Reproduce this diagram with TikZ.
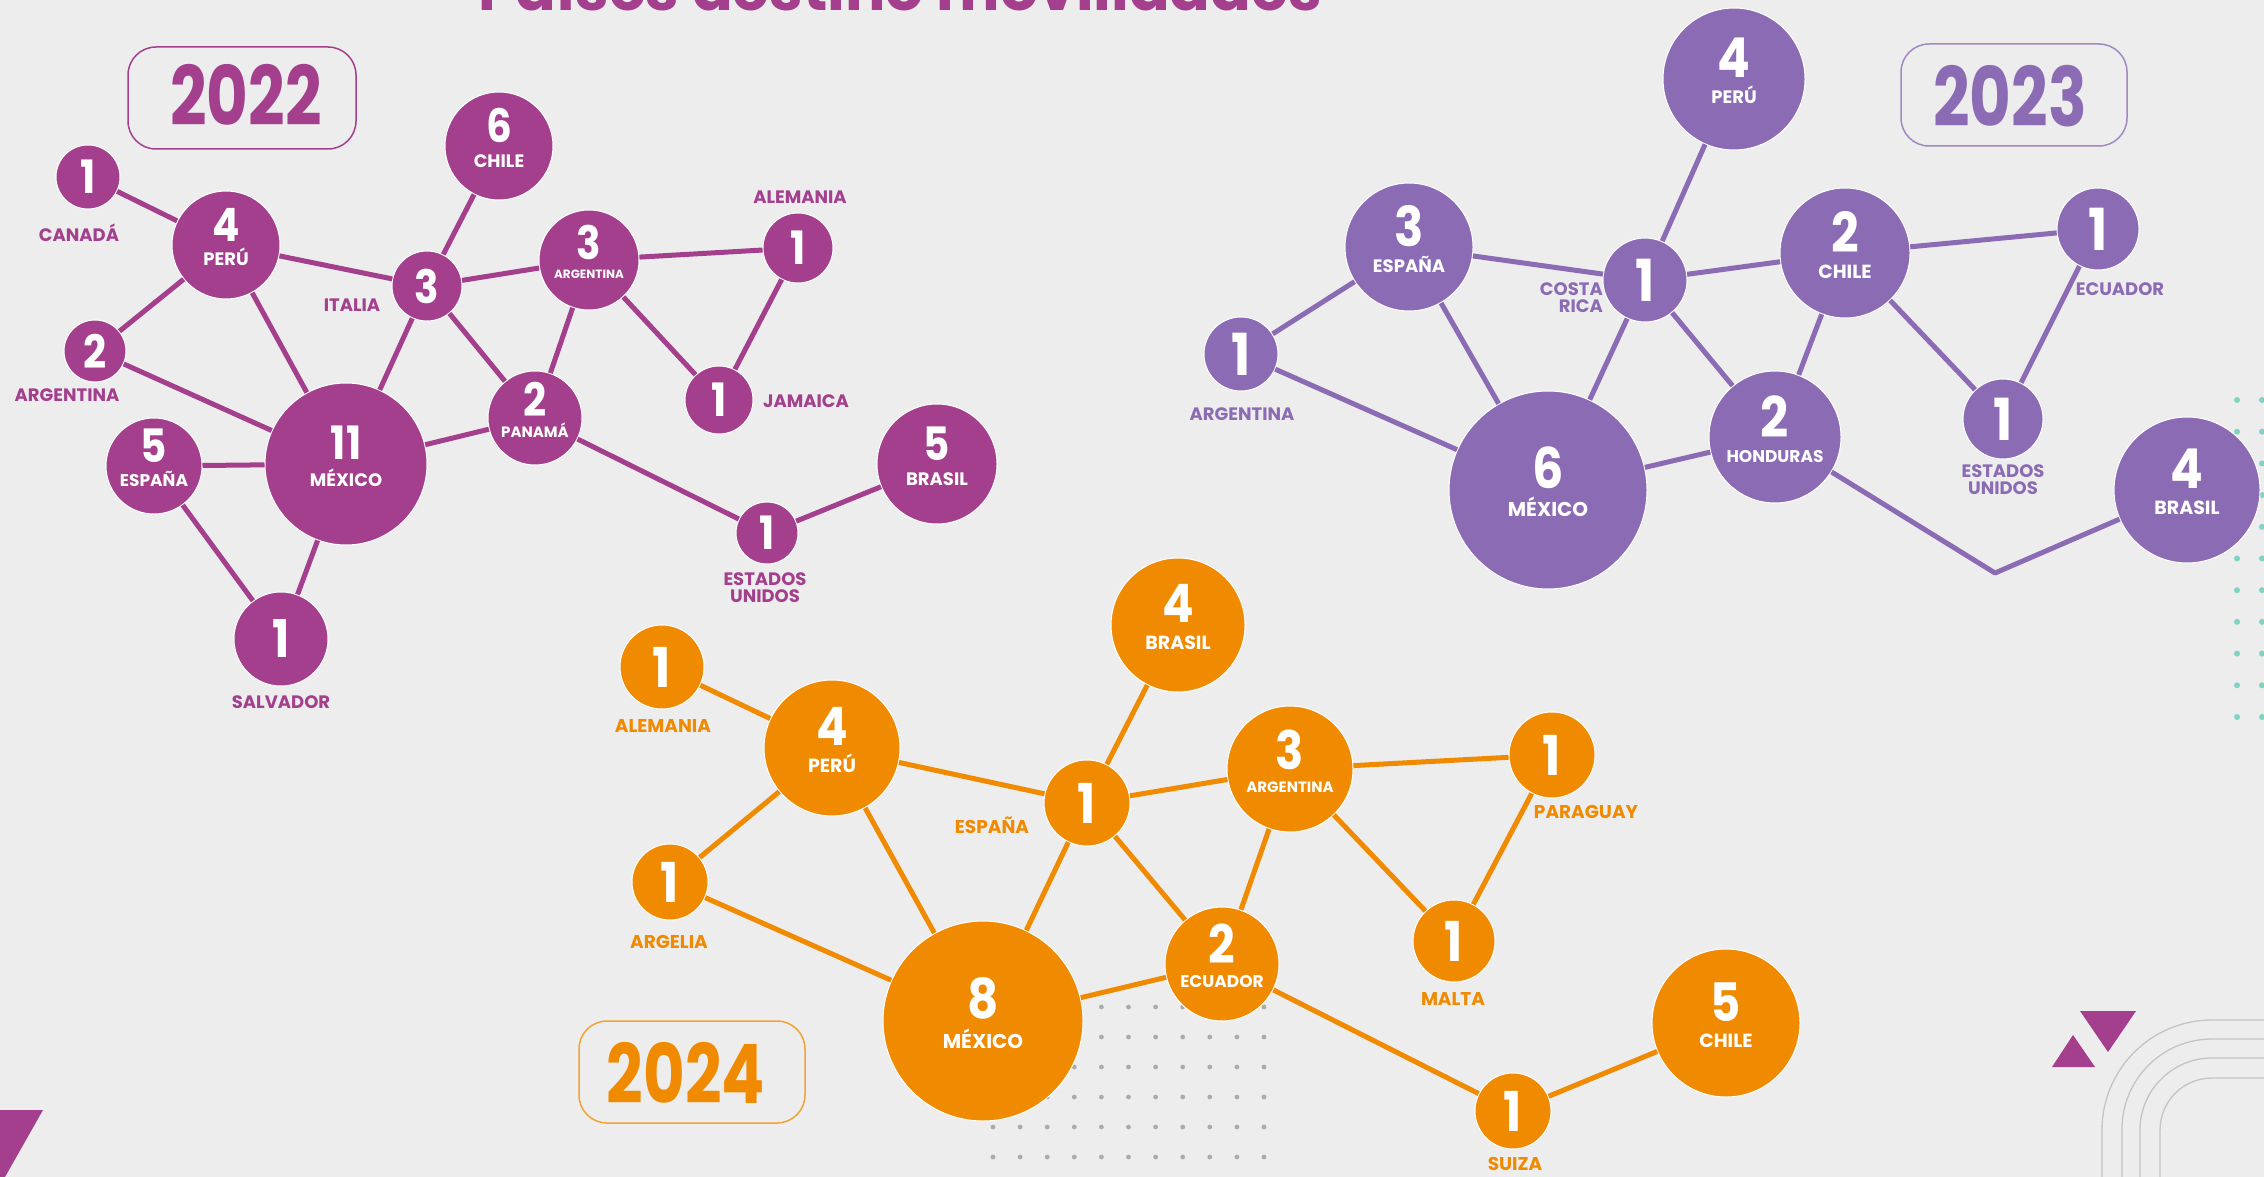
\documentclass[tikz,border=0pt]{standalone}
\usepackage{fontspec}
\setmainfont{Poppins}
\definecolor{cA}{HTML}{A33F8C}
\definecolor{cB}{HTML}{8B6CB4}
\definecolor{cC}{HTML}{F08A00}
\definecolor{paper}{HTML}{EDEDED}
\definecolor{dotgray}{HTML}{ABABAB}
\definecolor{dotteal}{HTML}{7FD3C0}
\definecolor{arcgray}{HTML}{C4C4C4}
\newcommand\NumName[5]{{\renewcommand\arraystretch{0}%
\begin{tabular}{@{}c@{}}\fontsize{#3}{#3}\selectfont\scalebox{0.88}[1]{#1}\\[#5]%
\fontsize{#4}{#4}\selectfont\smash{#2}\vphantom{E}\rule[-16pt]{0pt}{16pt}\end{tabular}}}
\newcommand\NumOnly[2]{{\fontsize{#2}{#2}\selectfont\scalebox{0.88}[1]{#1}}}
\tikzset{
  circA/.style={circle, fill=cA, draw=white, line width=1pt, inner sep=0pt},
  circB/.style={circle, fill=cB, draw=white, line width=1pt, inner sep=0pt},
  circC/.style={circle, fill=cC, draw=white, line width=1pt, inner sep=0pt},
  intext/.style={text=white, font=\bfseries, inner sep=0pt},
  eA/.style={draw=cA, line width=5pt},
  eB/.style={draw=cB, line width=5pt},
  eC/.style={draw=cC, line width=5pt},
  labA/.style={text=cA, font=\fontsize{18}{17}\selectfont\bfseries, align=center, inner sep=0pt},
  labB/.style={text=cB, font=\fontsize{18}{17}\selectfont\bfseries, align=center, inner sep=0pt},
  labC/.style={text=cC, font=\fontsize{18.5}{17}\selectfont\bfseries, align=center, inner sep=0pt},
  yearbox/.style={draw, line width=1.5pt, rounded corners=28pt},
}
\begin{document}
\begin{tikzpicture}[x=1pt, y=-1pt]
\useasboundingbox (0,0) rectangle (2264,1177);
\fill[paper] (0,0) rectangle (2264,1177);

% decorations
\foreach \i in {0,...,10} \foreach \j in {0,...,5}
  \fill[dotgray] (993+27.1*\i, 1007+30*\j) circle (2.4pt);
\foreach \j in {0,...,10} {
  \fill[dotteal] (2237, 400+31.7*\j) circle (3pt);
  \fill[dotteal] (2262, 400+31.7*\j) circle (3pt);
}
\fill[cA] (2080,1011) -- (2136,1011) -- (2108,1052) -- cycle;
\fill[cA] (2052,1067) -- (2095,1067) -- (2073,1035) -- cycle;
\fill[cA] (0,1110) -- (43,1110) -- (5,1177) -- (0,1177) -- cycle;
\draw[arcgray, line width=1.3pt, rounded corners=110pt] (2102,1177) -- (2102,1020) -- (2264,1020);
\draw[arcgray, line width=1.3pt, rounded corners=90pt] (2122,1177) -- (2122,1039) -- (2264,1039);
\draw[arcgray, line width=1.3pt, rounded corners=72pt] (2140,1177) -- (2140,1058) -- (2264,1058);
\draw[arcgray, line width=1.3pt, rounded corners=52pt] (2160,1177) -- (2160,1078) -- (2264,1078);

% title (cut off at the top)
\node[text=cA, font=\fontsize{60}{60}\selectfont\bfseries, anchor=base, inner sep=0pt] (title) at (900,11) {Países destino movilidades};

% year boxes
\draw[yearbox, cA] (128,47) rectangle (356,149);
\node[text=cA, font=\fontsize{82}{82}\selectfont\bfseries, inner sep=0pt] (y22) at (246,95) {\scalebox{0.78}[1]{2022}};
\draw[yearbox, cB!80] (1901,44) rectangle (2127,146);
\node[text=cB, font=\fontsize{82}{82}\selectfont\bfseries, inner sep=0pt] (y23) at (2010,96) {\scalebox{0.78}[1]{2023}};
\draw[yearbox, cC!80] (579,1021) rectangle (805,1123);
\node[text=cC, font=\fontsize{82}{82}\selectfont\bfseries, inner sep=0pt] (y24) at (686,1073) {\scalebox{0.78}[1]{2024}};

% ================= 2022 =================
\node[circA, minimum size=64pt] (can22) at (88,177) {};
\node[circA, minimum size=108pt] (per22) at (226,245) {};
\node[circA, minimum size=62pt] (arg22) at (95,351) {};
\node[circA, minimum size=96pt] (esp22) at (154,466) {};
\node[circA, minimum size=162pt] (mex22) at (346,464) {};
\node[circA, minimum size=94pt] (sal22) at (281,639) {};
\node[circA, minimum size=70pt] (ita22) at (427,286) {};
\node[circA, minimum size=108pt] (chi22) at (499,146) {};
\node[circA, minimum size=100pt] (arb22) at (589,260) {};
\node[circA, minimum size=94pt] (pan22) at (535,418) {};
\node[circA, minimum size=70pt] (ale22) at (798,248) {};
\node[circA, minimum size=68pt] (jam22) at (719,400) {};
\node[circA, minimum size=62pt] (usa22) at (767,533) {};
\node[circA, minimum size=120pt] (bra22) at (937,464) {};

\node[intext] (tcan22) at (can22) {\NumOnly{1}{46}};
\node[intext] (tper22) at (per22) {\NumName{4}{PERÚ}{46}{18}{12pt}};
\node[intext] (targ22) at (arg22) {\NumOnly{2}{46}};
\node[intext] (tesp22) at (esp22) {\NumName{5}{ESPAÑA}{46}{17}{12pt}};
\node[intext] (tmex22) at (mex22) {\NumName{11}{MÉXICO}{46}{18}{14pt}};
\node[intext] (tsal22) at (sal22) {\NumOnly{1}{52}};
\node[intext] (tita22) at (ita22) {\NumOnly{3}{46}};
\node[intext] (tchi22) at (chi22) {\NumName{6}{CHILE}{46}{18}{12pt}};
\node[intext] (tarb22) at (arb22) {\NumName{3}{ARGENTINA}{46}{12}{10pt}};
\node[intext] (tpan22) at (pan22) {\NumName{2}{PANAMÁ}{46}{15}{11pt}};
\node[intext] (tale22) at (ale22) {\NumOnly{1}{46}};
\node[intext] (tjam22) at (jam22) {\NumOnly{1}{46}};
\node[intext] (tusa22) at (usa22) {\NumOnly{1}{46}};
\node[intext] (tbra22) at (bra22) {\NumName{5}{BRASIL}{46}{18}{12pt}};

\draw[eA] (can22) -- (per22);
\draw[eA] (per22) -- (arg22);
\draw[eA] (per22) -- (ita22);
\draw[eA] (per22) -- (mex22);
\draw[eA] (arg22) -- (mex22);
\draw[eA] (esp22) -- (mex22);
\draw[eA] (esp22) -- (sal22);
\draw[eA] (mex22) -- (sal22);
\draw[eA] (mex22) -- (ita22);
\draw[eA] (ita22) -- (chi22);
\draw[eA] (ita22) -- (arb22);
\draw[eA] (ita22) -- (pan22);
\draw[eA] (arb22) -- (pan22);
\draw[eA] (arb22) -- (ale22);
\draw[eA] (arb22) -- (jam22);
\draw[eA] (ale22) -- (jam22);
\draw[eA] (mex22) -- (pan22);
\draw[eA] (pan22) -- (usa22);
\draw[eA] (usa22) -- (bra22);

\node[labA] (lcan22) at (79,233) {CANADÁ};
\node[labA] (larg22) at (67,395) {ARGENTINA};
\node[labA] (lsal22) at (281,702) {SALVADOR};
\node[labA] (lita22) at (352,305) {ITALIA};
\node[labA] (lale22) at (800,197) {ALEMANIA};
\node[labA] (ljam22) at (806,401) {JAMAICA};
\node[labA] (lusa22) at (765,588) {ESTADOS\\UNIDOS};

% ================= 2023 =================
\node[circB, minimum size=142pt] (per23) at (1734,79) {};
\node[circB, minimum size=128pt] (esp23) at (1409,247) {};
\node[circB, minimum size=84pt] (cri23) at (1645,280) {};
\node[circB, minimum size=130pt] (chi23) at (1845,253) {};
\node[circB, minimum size=82pt] (ecu23) at (2098,229) {};
\node[circB, minimum size=74pt] (arg23) at (1241,354) {};
\node[circB, minimum size=198pt] (mex23) at (1548,490) {};
\node[circB, minimum size=132pt] (hon23) at (1775,437) {};
\node[circB, minimum size=80pt] (usa23) at (2003,419) {};
\node[circB, minimum size=146pt] (bra23) at (2187,490) {};
\coordinate (bend23) at (1995,573);

\node[intext] (tper23) at (per23) {\NumName{4}{PERÚ}{55}{18}{13pt}};
\node[intext] (tesp23) at (esp23) {\NumName{3}{ESPAÑA}{55}{18}{13pt}};
\node[intext] (tcri23) at (cri23) {\NumOnly{1}{58}};
\node[intext] (tchi23) at (chi23) {\NumName{2}{CHILE}{55}{19}{13pt}};
\node[intext] (tecu23) at (ecu23) {\NumOnly{1}{58}};
\node[intext] (targ23) at (arg23) {\NumOnly{1}{58}};
\node[intext] (tmex23) at (mex23) {\NumName{6}{MÉXICO}{56}{20}{14pt}};
\node[intext] (thon23) at (hon23) {\NumName{2}{HONDURAS}{56}{17}{13pt}};
\node[intext] (tusa23) at (usa23) {\NumOnly{1}{58}};
\node[intext] (tbra23) at (bra23) {\NumName{4}{BRASIL}{55}{19}{13pt}};

\draw[eB] (per23) -- (cri23);
\draw[eB] (esp23) -- (cri23);
\draw[eB] (esp23) -- (arg23);
\draw[eB] (esp23) -- (mex23);
\draw[eB] (arg23) -- (mex23);
\draw[eB] (cri23) -- (chi23);
\draw[eB] (cri23) -- (mex23);
\draw[eB] (cri23) -- (hon23);
\draw[eB] (chi23) -- (hon23);
\draw[eB] (chi23) -- (ecu23);
\draw[eB] (chi23) -- (usa23);
\draw[eB] (ecu23) -- (usa23);
\draw[eB] (mex23) -- (hon23);
\draw[eB, line join=round] (hon23) -- (bend23) -- (bra23);

\node[labB, align=right, anchor=east] (lcri23) at (1603,298) {COSTA\\RICA};
\node[labB] (lecu23) at (2120,289) {ECUADOR};
\node[labB] (larg23) at (1242,414) {ARGENTINA};
\node[labB] (lusa23) at (2003,480) {ESTADOS\\UNIDOS};

% ================= 2024 =================
\node[circC, minimum size=84pt] (ale24) at (662,667) {};
\node[circC, minimum size=136pt] (per24) at (832,748) {};
\node[circC, minimum size=76pt] (agl24) at (670,882) {};
\node[circC, minimum size=134pt] (bra24) at (1178,625) {};
\node[circC, minimum size=86pt] (esp24) at (1087,803) {};
\node[circC, minimum size=126pt] (arg24) at (1290,769) {};
\node[circC, minimum size=86pt] (par24) at (1552,755) {};
\node[circC, minimum size=114pt] (ecu24) at (1222,964) {};
\node[circC, minimum size=82pt] (mal24) at (1454,941) {};
\node[circC, minimum size=200pt] (mex24) at (983,1021) {};
\node[circC, minimum size=76pt] (sui24) at (1513,1111) {};
\node[circC, minimum size=148pt] (chi24) at (1726,1023) {};

\node[intext] (tale24) at (ale24) {\NumOnly{1}{55}};
\node[intext] (tper24) at (per24) {\NumName{4}{PERÚ}{53}{19}{13pt}};
\node[intext] (tagl24) at (agl24) {\NumOnly{1}{55}};
\node[intext] (tbra24) at (bra24) {\NumName{4}{BRASIL}{53}{19}{13pt}};
\node[intext] (tesp24) at (esp24) {\NumOnly{1}{55}};
\node[intext] (targ24) at (arg24) {\NumName{3}{ARGENTINA}{53}{15}{12pt}};
\node[intext] (tpar24) at (par24) {\NumOnly{1}{55}};
\node[intext] (tecu24) at (ecu24) {\NumName{2}{ECUADOR}{53}{17}{12pt}};
\node[intext] (tmal24) at (mal24) {\NumOnly{1}{55}};
\node[intext] (tmex24) at (mex24) {\NumName{8}{MÉXICO}{55}{20}{15pt}};
\node[intext] (tsui24) at (sui24) {\NumOnly{1}{55}};
\node[intext] (tchi24) at (chi24) {\NumName{5}{CHILE}{53}{19}{13pt}};

\draw[eC] (ale24) -- (per24);
\draw[eC] (per24) -- (agl24);
\draw[eC] (per24) -- (esp24);
\draw[eC] (per24) -- (mex24);
\draw[eC] (agl24) -- (mex24);
\draw[eC] (esp24) -- (bra24);
\draw[eC] (esp24) -- (arg24);
\draw[eC] (esp24) -- (mex24);
\draw[eC] (esp24) -- (ecu24);
\draw[eC] (arg24) -- (ecu24);
\draw[eC] (arg24) -- (par24);
\draw[eC] (arg24) -- (mal24);
\draw[eC] (par24) -- (mal24);
\draw[eC] (mex24) -- (ecu24);
\draw[eC] (ecu24) -- (sui24);
\draw[eC] (sui24) -- (chi24);

\node[labC] (lale24) at (663,726) {ALEMANIA};
\node[labC] (lagl24) at (669,942) {ARGELIA};
\node[labC] (lesp24) at (992,825) {ESPAÑA};
\node[labC] (lpar24) at (1586,812) {PARAGUAY};
\node[labC] (lmal24) at (1453,999) {MALTA};
\node[labC] (lsui24) at (1515,1164) {SUIZA};
\end{tikzpicture}
\end{document}
